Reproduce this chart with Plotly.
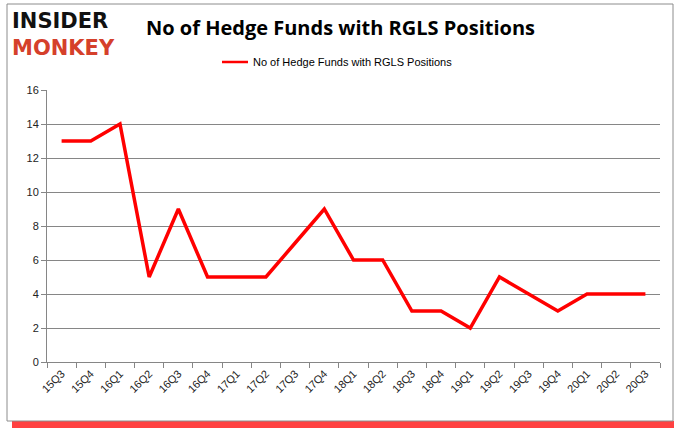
import plotly.graph_objects as go

quarters = ["15Q3","15Q4","16Q1","16Q2","16Q3","16Q4","17Q1","17Q2","17Q3","17Q4",
            "18Q1","18Q2","18Q3","18Q4","19Q1","19Q2","19Q3","19Q4","20Q1","20Q2","20Q3"]
funds = [13,13,14,5,9,5,5,5,7,9,6,6,3,3,2,5,4,3,4,4,4]
series_name = "No of Hedge Funds with RGLS Positions"

L, R, T, B = 47, 660, 90, 362
W, H = 680, 433
def px(x): return (x - L) / (R - L)
def py(y): return (B - y) / (B - T)

fig = go.Figure()
fig.add_trace(go.Scatter(x=quarters, y=funds, mode="lines", name=series_name,
                         line=dict(color="#ff0000", width=3.5), showlegend=False))

fig.update_layout(
    width=W, height=H,
    margin=dict(l=L, r=W - R, t=T, b=H - B),
    paper_bgcolor="white", plot_bgcolor="white",
    font=dict(family="Liberation Sans, Arial", color="#000"),
    xaxis=dict(type="category", tickson="boundaries", ticks="outside", ticklen=5,
               tickcolor="#868686", showline=True, linecolor="#868686", linewidth=1,
               showgrid=False, tickangle=-45, tickfont=dict(size=11, color="#222"),
               range=[-0.5, len(quarters) - 0.5]),
    yaxis=dict(range=[0, 16], dtick=2, ticks="outside", ticklen=5, tickcolor="#868686",
               showline=True, linecolor="#868686", linewidth=1, showgrid=True,
               gridcolor="#868686", gridwidth=1, tickfont=dict(size=11, color="#222"),
               zeroline=False),
)

shapes = []
shapes.append(dict(type="rect", xref="paper", yref="paper",
                   x0=px(12), x1=px(674), y0=py(428), y1=py(421),
                   fillcolor="#ff2020", line=dict(width=0), layer="below", opacity=0.85))
shapes.append(dict(type="rect", xref="paper", yref="paper",
                   x0=px(7), x1=px(673), y0=py(421), y1=py(4),
                   line=dict(color="#8c8c8c", width=1), fillcolor="rgba(0,0,0,0)", layer="below"))
shapes.append(dict(type="line", xref="paper", yref="paper",
                   x0=px(222), x1=px(248), y0=py(62), y1=py(62),
                   line=dict(color="#ff0000", width=2.5)))
fig.update_layout(shapes=shapes)

annotations = [
    dict(text="<b>No of Hedge Funds with RGLS Positions</b>", x=px(340), y=py(28),
         xref="paper", yref="paper", showarrow=False, xanchor="center", yanchor="middle",
         font=dict(size=20, color="#000", family="Open Sans, Liberation Sans")),
    dict(text=series_name, x=px(251), y=py(62), xref="paper", yref="paper", showarrow=False,
         xanchor="left", yanchor="middle", font=dict(size=11, color="#000")),
    dict(text="<b>INSIDER</b><br><span style='color:#d5402b'><b>MONKEY</b></span>",
         x=px(10), y=py(34), xref="paper", yref="paper", showarrow=False,
         xanchor="left", yanchor="middle", align="left",
         font=dict(size=21, color="#111", family="DejaVu Sans")),
]
fig.update_layout(annotations=annotations)

fig.write_html("out.html", config={"displayModeBar": False},
               post_script="document.body.style.margin='0';document.body.style.padding='0';")
